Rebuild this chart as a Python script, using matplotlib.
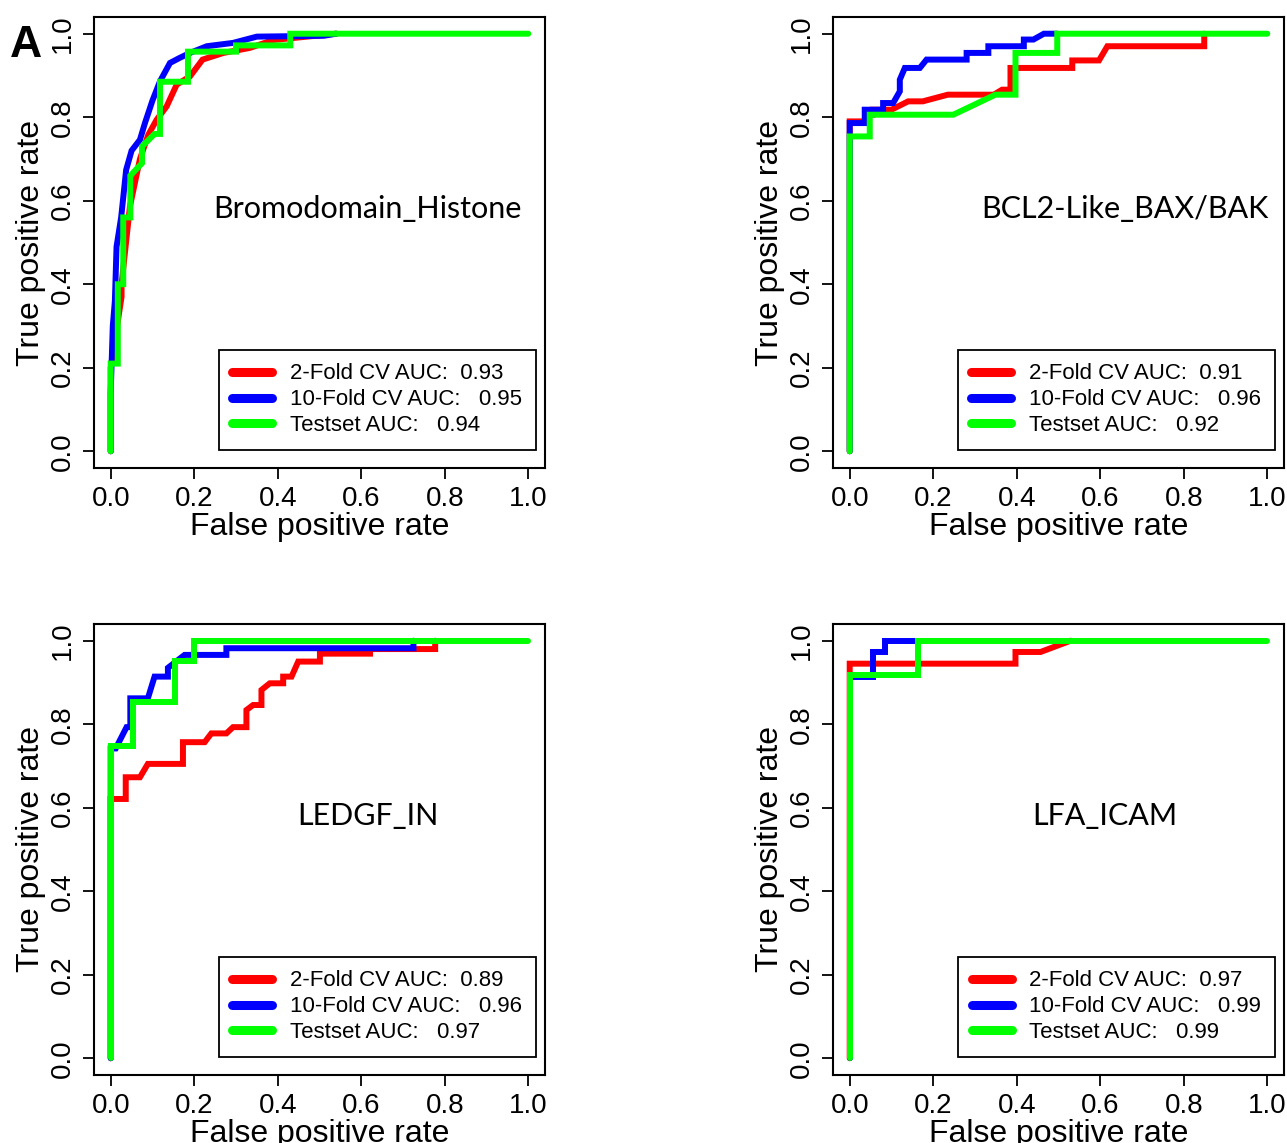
import numpy as np
import matplotlib.pyplot as plt

plt.rcParams['font.family'] = ['Liberation Sans', 'DejaVu Sans']

# ROC curves: (fpr, tpr) vertices per panel and model
names = ["Bromodomain_Histone", "BCL2-Like_BAX/BAK", "LEDGF_IN", "LFA_ICAM"]

auc_2fold = [0.93, 0.91, 0.89, 0.97]
auc_10fold = [0.95, 0.96, 0.96, 0.99]
auc_test = [0.94, 0.92, 0.97, 0.99]

# panel 1
p1_red_x = [0, 0, 0.026, 0.026, 0.034, 0.046, 0.07, 0.09, 0.11, 0.134, 0.158, 0.19, 0.22, 0.27, 0.333, 0.39, 0.54]
p1_red_y = [0, 0.2, 0.37, 0.40, 0.475, 0.586, 0.70, 0.758, 0.794, 0.826, 0.878, 0.898, 0.938, 0.954, 0.966, 0.985, 1.0]
p1_blue_x = [0, 0, 0.005, 0.01, 0.014, 0.025, 0.037, 0.05, 0.07, 0.082, 0.10, 0.118, 0.142, 0.165, 0.19, 0.23, 0.293, 0.35, 0.51, 0.54]
p1_blue_y = [0, 0.14, 0.30, 0.36, 0.49, 0.56, 0.674, 0.72, 0.746, 0.786, 0.84, 0.886, 0.93, 0.942, 0.954, 0.97, 0.978, 0.993, 0.995, 1.0]
p1_green_x = [0, 0, 0.017, 0.017, 0.03, 0.03, 0.047, 0.047, 0.075, 0.075, 0.105, 0.118, 0.118, 0.185, 0.185, 0.30, 0.30, 0.43, 0.43, 1.0]
p1_green_y = [0, 0.21, 0.21, 0.40, 0.40, 0.56, 0.56, 0.66, 0.69, 0.73, 0.76, 0.76, 0.885, 0.885, 0.957, 0.957, 0.972, 0.972, 1.0, 1.0]

# panel 2
p2_red_x = [0, 0, 0.04, 0.04, 0.055, 0.055, 0.10, 0.14, 0.175, 0.235, 0.296, 0.345, 0.365, 0.385, 0.385, 0.533, 0.533, 0.597, 0.617, 0.849, 0.849]
p2_red_y = [0, 0.79, 0.79, 0.806, 0.806, 0.818, 0.818, 0.838, 0.838, 0.854, 0.854, 0.854, 0.866, 0.866, 0.918, 0.918, 0.936, 0.936, 0.97, 0.97, 1.0]
p2_blue_x = [0, 0, 0.036, 0.036, 0.08, 0.08, 0.104, 0.12, 0.12, 0.132, 0.168, 0.184, 0.28, 0.28, 0.332, 0.332, 0.417, 0.417, 0.44, 0.465, 0.497]
p2_blue_y = [0, 0.786, 0.786, 0.818, 0.818, 0.834, 0.834, 0.862, 0.89, 0.918, 0.918, 0.938, 0.938, 0.954, 0.954, 0.97, 0.97, 0.986, 0.986, 1.0, 1.0]
p2_green_x = [0, 0, 0.048, 0.048, 0.248, 0.349, 0.397, 0.397, 0.497, 0.497, 1.0]
p2_green_y = [0, 0.754, 0.754, 0.806, 0.806, 0.854, 0.854, 0.954, 0.954, 1.0, 1.0]

# panel 3
p3_red_x = [0, 0, 0.036, 0.036, 0.07, 0.089, 0.173, 0.173, 0.225, 0.241, 0.277, 0.293, 0.325, 0.325, 0.341, 0.361, 0.361, 0.381, 0.413, 0.413, 0.433, 0.449, 0.501, 0.501, 0.621, 0.621, 0.777, 0.777]
p3_red_y = [0, 0.621, 0.621, 0.673, 0.673, 0.705, 0.705, 0.757, 0.757, 0.778, 0.778, 0.793, 0.793, 0.834, 0.846, 0.846, 0.882, 0.898, 0.898, 0.914, 0.914, 0.950, 0.950, 0.969, 0.969, 0.980, 0.980, 1.0]
p3_blue_x = [0, 0, 0.012, 0.038, 0.047, 0.047, 0.089, 0.105, 0.137, 0.137, 0.177, 0.277, 0.277, 0.725, 0.725]
p3_blue_y = [0, 0.742, 0.742, 0.793, 0.793, 0.862, 0.862, 0.914, 0.914, 0.935, 0.966, 0.966, 0.982, 0.982, 1.0]
p3_green_x = [0, 0, 0.053, 0.053, 0.153, 0.153, 0.20, 0.20, 1.0]
p3_green_y = [0, 0.749, 0.749, 0.854, 0.854, 0.952, 0.952, 1.0, 1.0]

# panel 4
p4_red_x = [0, 0, 0.397, 0.397, 0.457, 0.529]
p4_red_y = [0, 0.945, 0.945, 0.973, 0.973, 1.0]
p4_blue_x = [0, 0, 0.056, 0.056, 0.084, 0.084, 0.16]
p4_blue_y = [0, 0.912, 0.912, 0.973, 0.973, 1.0, 1.0]
p4_green_x = [0, 0, 0.164, 0.164, 1.0]
p4_green_y = [0, 0.918, 0.918, 1.0, 1.0]

curves = [
    [(p1_red_x, p1_red_y), (p1_blue_x, p1_blue_y), (p1_green_x, p1_green_y)],
    [(p2_red_x, p2_red_y), (p2_blue_x, p2_blue_y), (p2_green_x, p2_green_y)],
    [(p3_red_x, p3_red_y), (p3_blue_x, p3_blue_y), (p3_green_x, p3_green_y)],
    [(p4_red_x, p4_red_y), (p4_blue_x, p4_blue_y), (p4_green_x, p4_green_y)],
]
colors = ["#FF0000", "#0000FF", "#00FF00"]

fig = plt.figure(figsize=(12.87, 11.43), dpi=100)
W, H = 1287, 1143
boxes = [(94, 17), (833, 17), (94, 624), (833, 624)]  # left, top in px
bw, bh = 451, 451
name_pos = [(0.607, 0.575, 'center'), (0.965, 0.575, 'right'), (0.607, 0.575, 'center'), (0.603, 0.575, 'center')]

for i in range(4):
    l, t = boxes[i]
    ax = fig.add_axes([l / W, (H - t - bh) / H, bw / W, bh / H])
    for (xs, ys), c in zip(curves[i], colors):
        ax.plot(xs, ys, color=c, lw=4.3, solid_joinstyle='miter', solid_capstyle='round')
    ax.set_xlim(-0.04, 1.04)
    ax.set_ylim(-0.04, 1.04)
    ticks = [0.0, 0.2, 0.4, 0.6, 0.8, 1.0]
    ax.set_xticks(ticks)
    ax.set_yticks(ticks)
    ax.set_xticklabels([f"{v:.1f}" for v in ticks], fontsize=20)
    ax.set_yticklabels([f"{v:.1f}" for v in ticks], fontsize=20, rotation=90, va='center')
    ax.tick_params(length=8, width=1.3, pad=5)
    for s in ax.spines.values():
        s.set_linewidth(1.5)
    ax.set_xlabel("False positive rate", fontsize=23, labelpad=0)
    ax.set_ylabel("True positive rate", fontsize=23, labelpad=3)
    nx, ny, ha = name_pos[i]
    ax.text(nx, ny, names[i], transform=ax.transAxes, fontsize=22, family=['Lato', 'DejaVu Sans'],
            ha=ha, va='center')
    labels = [f"2-Fold CV AUC:  {auc_2fold[i]:.2f}",
              f"10-Fold CV AUC:   {auc_10fold[i]:.2f}",
              f"Testset AUC:   {auc_test[i]:.2f}"]
    handles = [plt.Line2D([], [], color=c, lw=6.5, solid_capstyle='round') for c in colors]
    leg = ax.legend(handles, labels, loc='lower right', bbox_to_anchor=(0.980, 0.040),
                    borderaxespad=0, fontsize=16, fancybox=False, edgecolor='black',
                    framealpha=1, handlelength=1.8, handletextpad=0.8, labelspacing=0.22,
                    borderpad=0.62)
    leg.get_frame().set_linewidth(1.3)

fig.text(0.008, 0.978, "A", fontsize=32, fontweight='bold', va='top', ha='left')

fig.savefig("out.png", dpi=100)
